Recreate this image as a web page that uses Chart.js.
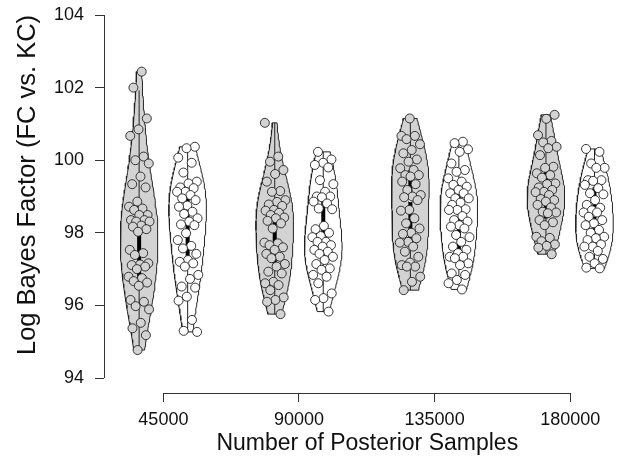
<!DOCTYPE html>
<html>
<head>
<meta charset="utf-8">
<script src="https://cdn.jsdelivr.net/npm/chart.js@4.4.1/dist/chart.umd.min.js"></script>
<style>
  html, body { margin: 0; padding: 0; background: #fff; overflow: hidden; }
  #frame { position: relative; width: 618px; height: 460px; overflow: hidden; }
  /* the plot region runs past the right and top edges, as in the source figure */
  #wrap { position: absolute; left: 0; top: -38px; width: 636px; height: 498px; }
</style>
</head>
<body>
<div id="frame"><div id="wrap"><canvas id="myChart"></canvas></div></div>
<script>
// posterior sample sizes on the x axis
const groups = [45000, 90000, 135000, 180000];
const yTicks = [94, 96, 98, 100, 102, 104];

// log Bayes factor per replicate
const grey45000 = [102.44, 102.0, 101.15, 100.85, 100.67, 100.1, 100.0, 99.91, 99.55, 99.34, 99.25, 98.86, 98.72, 98.67, 98.63, 98.49, 98.49, 98.35, 98.35, 98.31, 98.31, 98.2, 98.17, 98.1, 98.03, 97.53, 97.44, 97.39, 97.16, 97.13, 97.11, 97.07, 97.0, 96.79, 96.75, 96.67, 96.63, 96.54, 96.15, 96.1, 95.98, 95.89, 95.52, 95.37, 95.18, 94.77];
const white45000 = [100.37, 100.33, 100.07, 99.93, 99.66, 99.41, 99.36, 99.25, 99.23, 99.13, 99.13, 99.04, 98.95, 98.9, 98.75, 98.72, 98.58, 98.52, 98.4, 98.31, 98.23, 98.21, 97.99, 97.8, 97.64, 97.57, 97.42, 97.25, 97.2, 97.16, 97.07, 96.84, 96.73, 96.52, 96.49, 96.24, 96.13, 95.6, 95.3, 95.27];
const grey90000 = [101.03, 100.1, 99.96, 99.73, 99.62, 99.41, 99.15, 99.13, 98.9, 98.85, 98.78, 98.74, 98.63, 98.61, 98.55, 98.49, 98.42, 98.4, 98.33, 98.26, 98.12, 97.73, 97.71, 97.66, 97.6, 97.53, 97.42, 97.34, 97.3, 97.14, 97.07, 96.93, 96.88, 96.65, 96.61, 96.56, 96.42, 96.22, 96.15, 96.1, 95.76];
const white90000 = [100.23, 100.02, 99.93, 99.87, 99.8, 99.45, 99.34, 99.13, 99.0, 99.0, 98.98, 98.86, 98.81, 98.67, 98.65, 98.19, 98.1, 98.0, 97.91, 97.88, 97.75, 97.75, 97.66, 97.62, 97.53, 97.48, 97.42, 97.34, 97.25, 97.14, 97.02, 96.98, 96.84, 96.79, 96.61, 96.33, 96.2, 96.15, 95.83];
const grey135000 = [101.15, 100.67, 100.67, 100.58, 100.44, 100.28, 100.19, 100.02, 99.96, 99.78, 99.73, 99.59, 99.59, 99.55, 99.41, 99.34, 99.18, 99.04, 99.0, 98.98, 98.9, 98.63, 98.61, 98.4, 98.26, 98.12, 98.0, 97.97, 97.85, 97.75, 97.73, 97.62, 97.48, 97.34, 97.18, 97.11, 97.07, 97.07, 96.79, 96.65, 96.42];
const white135000 = [100.51, 100.47, 100.3, 100.23, 99.91, 99.73, 99.68, 99.5, 99.41, 99.32, 99.27, 99.18, 99.09, 99.09, 98.95, 98.95, 98.83, 98.77, 98.65, 98.63, 98.63, 98.46, 98.35, 98.31, 98.21, 98.17, 98.12, 97.94, 97.88, 97.75, 97.62, 97.53, 97.44, 97.34, 97.34, 97.3, 97.16, 97.11, 96.88, 96.84, 96.7, 96.61, 96.44];
const grey180000 = [101.25, 101.14, 100.69, 100.53, 100.49, 100.37, 100.33, 100.14, 99.82, 99.79, 99.64, 99.59, 99.52, 99.36, 99.34, 99.25, 99.18, 99.13, 99.12, 99.04, 98.93, 98.9, 98.86, 98.77, 98.7, 98.58, 98.56, 98.54, 98.35, 98.29, 98.21, 97.89, 97.86, 97.77, 97.68, 97.64, 97.59, 97.41];
const white180000 = [100.31, 100.23, 99.91, 99.79, 99.79, 99.45, 99.45, 99.43, 99.32, 99.23, 99.09, 99.06, 98.9, 98.77, 98.69, 98.62, 98.56, 98.56, 98.44, 98.35, 98.26, 98.21, 98.08, 98.0, 97.89, 97.85, 97.8, 97.68, 97.62, 97.62, 97.5, 97.34, 97.28, 97.16, 97.04, 97.02];

const greyRuns = [grey45000, grey90000, grey135000, grey180000];
const whiteRuns = [white45000, white90000, white135000, white180000];

// layout in x units (3.044 px per 1000 samples)
const xMin = 25292, xMax = 200037;
const yMin = 93.587, yMax = 105.047;
const pairOffset = 8050;
const halfWidth = 6240;
const jitterHalf = 3600;
const bwScale = 1.15;

const GREY = "#d3d3d3";
const INK = "#222";

function quantile(sorted, p) {
    const h = (sorted.length - 1) * p;
    const lo = Math.floor(h);
    return sorted[lo] + (h - lo) * ((sorted[lo + 1] ?? sorted[lo]) - sorted[lo]);
}

function violinOutline(values, center) {
    const n = values.length;
    const mean = values.reduce((a, b) => a + b, 0) / n;
    const sd = Math.sqrt(values.reduce((a, b) => a + (b - mean) ** 2, 0) / (n - 1));
    const h = bwScale * sd * Math.pow(4 / (3 * n), 0.2);
    const lo = Math.min(...values), hi = Math.max(...values);
    const steps = 80;
    const ys = [], dens = [];
    for (let i = 0; i <= steps; i++) {
        const y = lo + (hi - lo) * i / steps;
        let d = 0;
        for (const v of values) d += Math.exp(-0.5 * ((y - v) / h) ** 2);
        ys.push(y);
        dens.push(d);
    }
    const maxD = Math.max(...dens);
    const right = ys.map((y, i) => ({ x: center + halfWidth * dens[i] / maxD, y }));
    const left = ys.map((y, i) => ({ x: center - halfWidth * dens[i] / maxD, y })).reverse();
    return [...right, ...left, right[0]];
}

function violinDatasets(values, center, fillColor, k) {
    const sorted = [...values].sort((a, b) => a - b);
    const q1 = quantile(sorted, 0.25), med = quantile(sorted, 0.5), q3 = quantile(sorted, 0.75);
    const iqr = q3 - q1;
    const upper = Math.min(q3 + 1.5 * iqr, sorted[sorted.length - 1]);
    const lower = Math.max(q1 - 1.5 * iqr, sorted[0]);

    // deterministic spread so points don't pile on the centre line
    const pts = values.map((v, i) => {
        const u = ((i + 1) * 0.6180339887 + k * 0.2134) % 1;
        return { x: center + (2 * u - 1) * jitterHalf, y: v };
    });

    return [
        {
            data: violinOutline(values, center),
            showLine: true, fill: "shape", tension: 0,
            backgroundColor: fillColor, borderColor: INK, borderWidth: 1,
            pointRadius: 0, order: 4,
        },
        {
            data: [{ x: center, y: lower }, { x: center, y: upper }],
            showLine: true, borderColor: INK, borderWidth: 1, pointRadius: 0, order: 3,
        },
        {
            data: [{ x: center, y: q1 }, { x: center, y: q3 }],
            showLine: true, borderColor: "#000", borderWidth: 4, borderCapStyle: "butt",
            pointRadius: 0, order: 2,
        },
        {
            data: [{ x: center, y: med }],
            pointRadius: 2, backgroundColor: "#fff", borderWidth: 0, order: 1,
        },
        {
            data: pts,
            pointRadius: 4.5, backgroundColor: fillColor, borderColor: INK, borderWidth: 0.9,
            order: 0,
        },
    ];
}

const datasets = [];
groups.forEach((g, i) => {
    datasets.push(...violinDatasets(greyRuns[i], g - pairOffset, GREY, 2 * i));
    datasets.push(...violinDatasets(whiteRuns[i], g + pairOffset, "#fff", 2 * i + 1));
});

// R-style axis lines that only run between the outer ticks
const axisLines = {
    id: "axisLines",
    afterDraw(chart) {
        const { ctx, chartArea, scales: { x, y } } = chart;
        const yb = Math.round(chartArea.bottom) + 0.5;
        const xl = Math.round(chartArea.left) + 0.5;
        ctx.save();
        ctx.strokeStyle = "#333";
        ctx.lineWidth = 1;
        ctx.beginPath();
        ctx.moveTo(x.getPixelForValue(groups[0]), yb);
        ctx.lineTo(x.getPixelForValue(groups[groups.length - 1]), yb);
        ctx.moveTo(xl, y.getPixelForValue(yTicks[0]));
        ctx.lineTo(xl, y.getPixelForValue(yTicks[yTicks.length - 1]));
        ctx.stroke();
        ctx.restore();
    },
};

const font = "'Liberation Sans', Arial, Helvetica, sans-serif";

new Chart("myChart", {
    type: "scatter",
    data: { datasets },
    plugins: [axisLines],
    options: {
        responsive: true,
        maintainAspectRatio: false,
        animation: false,
        layout: { padding: { top: 15, right: 0, bottom: 0, left: 0 } },
        plugins: {
            legend: { display: false },
            tooltip: { enabled: false },
        },
        scales: {
            x: {
                type: "linear",
                min: xMin,
                max: xMax,
                afterBuildTicks: (s) => { s.ticks = groups.map((v) => ({ value: v })); },
                afterFit: (s) => { s.height = 67; },
                border: { display: false },
                grid: { drawOnChartArea: false, drawTicks: true, tickLength: 9, color: "#333" },
                ticks: {
                    autoSkip: false, maxRotation: 0, padding: 7,
                    color: "#111", font: { family: font, size: 18 },
                    callback: (v) => String(v),
                },
                title: {
                    display: true,
                    text: "Number of Posterior Samples",
                    color: "#111",
                    font: { family: font, size: 23 },
                    padding: { top: 0, bottom: 2.2 },
                },
            },
            y: {
                type: "linear",
                min: yMin,
                max: yMax,
                afterBuildTicks: (s) => { s.ticks = yTicks.map((v) => ({ value: v })); },
                afterFit: (s) => { s.width = 104; s.paddingTop = 0; s.paddingBottom = 0; },
                border: { display: false },
                grid: { drawOnChartArea: false, drawTicks: true, tickLength: 9, color: "#333" },
                ticks: {
                    padding: 11,
                    color: "#111", font: { family: font, size: 18 },
                    callback: (v) => String(v),
                },
                title: {
                    display: true,
                    text: "Log Bayes Factor (FC vs. KC)",
                    color: "#111",
                    font: { family: font, size: 25.5 },
                    padding: { top: 12.7, bottom: 0 },
                },
            },
        },
    },
});
</script>
</body>
</html>
